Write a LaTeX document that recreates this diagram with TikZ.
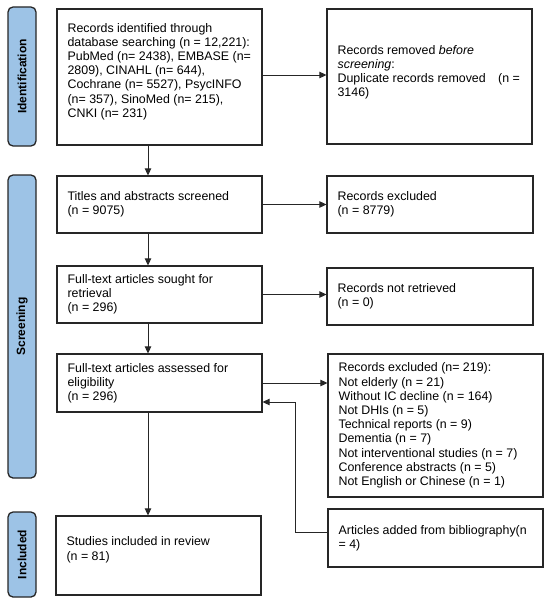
\documentclass[tikz,border=0pt]{standalone}
\usepackage{fontspec}
\setmainfont{Liberation Sans}
\usetikzlibrary{arrows.meta,calc}
\definecolor{sidefill}{HTML}{9DC3E6}
\definecolor{lncol}{HTML}{262626}
\begin{document}
\begin{tikzpicture}[x=1pt,y=-1pt,
  box/.style={draw=lncol,line width=1.2pt,fill=white,rectangle,inner sep=0pt},
  side/.style={draw=lncol,line width=1.3pt,fill=sidefill,rectangle,rounded corners=5pt,inner sep=0pt,minimum width=28pt},
  sidetxt/.style={rotate=90,font=\fontsize{12}{14}\selectfont\bfseries,text=black,inner sep=0pt},
  txt/.style={anchor=west,align=left,inner sep=0pt,font=\fontsize{12.4}{14.2}\selectfont,text=black},
  arr/.style={draw=lncol,line width=1pt,-{Triangle[length=7pt,width=6.5pt]}}]
\useasboundingbox (0,0) rectangle (550,602);
% sidebars
\node[side,minimum height=139pt] (s1) at (22,76.5) {};
\node[sidetxt] (s1t) at (s1.center) {Identification};
\node[side,minimum height=303pt] (s2) at (22,326.5) {};
\node[sidetxt] (s2t) at (s2.center) {Screening};
\node[side,minimum height=85pt] (s3) at (22,554.5) {};
\node[sidetxt] (s3t) at (s3.center) {Included};
% boxes
\node[box,minimum width=205pt,minimum height=136pt] (id) at (159.5,77) {};
\node[txt] (idt) at ($(id.west)+(11,-5.5)$) {Records identified through\\database searching (n = 12,221):\\PubMed (n= 2438), EMBASE (n=\\2809), CINAHL (n= 644),\\Cochrane (n= 5527), PsycINFO\\(n= 357), SinoMed (n= 215),\\CNKI (n= 231)};
\node[box,minimum width=205pt,minimum height=135pt] (rem) at (429.5,76.5) {};
\node[txt] (remt) at ($(rem.west)+(11,-4.2)$) {Records removed \textit{before}\\\textit{screening}:\\Duplicate records removed\hspace{12.5pt}(n =\\3146)};
\node[box,minimum width=205pt,minimum height=57pt] (tit) at (159.5,204.5) {};
\node[txt] (titt) at ($(tit.west)+(11,0)$) {Titles and abstracts screened\\(n = 9075)};
\node[box,minimum width=206pt,minimum height=57pt] (exc) at (430,204.5) {};
\node[txt] (exct) at ($(exc.west)+(11,0)$) {Records excluded\\(n = 8779)};
\node[box,minimum width=205pt,minimum height=57pt] (sou) at (159.5,294.5) {};
\node[txt] (sout) at ($(sou.west)+(11,0)$) {Full-text articles sought for\\retrieval\\(n = 296)};
\node[box,minimum width=206pt,minimum height=57pt] (ret) at (430,296.5) {};
\node[txt] (rett) at ($(ret.west)+(11,0)$) {Records not retrieved\\(n = 0)};
\node[box,minimum width=205pt,minimum height=58pt] (ass) at (159.5,383) {};
\node[txt] (asst) at ($(ass.west)+(11,0)$) {Full-text articles assessed for\\eligibility\\(n = 296)};
\node[box,minimum width=215pt,minimum height=143pt] (ex2) at (435.5,425.5) {};
\node[txt] (ex2t) at ($(ex2.west)+(11,0)$) {Records excluded (n= 219):\\Not elderly (n = 21)\\Without IC decline (n = 164)\\Not DHIs (n = 5)\\Technical reports (n = 9)\\Dementia (n = 7)\\Not interventional studies (n = 7)\\Conference abstracts (n = 5)\\Not English or Chinese (n = 1)};
\node[box,minimum width=215pt,minimum height=58pt] (add) at (435.5,538) {};
\node[txt] (addt) at ($(add.west)+(11,0)$) {Articles added from bibliography(n\\= 4)};
\node[box,minimum width=205pt,minimum height=79pt] (inc) at (158.5,555.5) {};
\node[txt] (inct) at ($(inc.west)+(11,-5.8)$) {Studies included in review\\(n = 81)};
% connectors
\coordinate (idr) at ($(id.east)+(0,-2)$);
\draw[arr] (idr) -- (idr -| rem.west);
\coordinate (idb) at ($(id.south)+(-11.5,0)$);
\draw[arr] (idb) -- (idb |- tit.north);
\draw[arr] (tit.east) -- (tit.east -| exc.west);
\coordinate (titb) at ($(tit.south)+(-11.5,0)$);
\draw[arr] (titb) -- (titb |- sou.north);
\draw[arr] (sou.east) -- (sou.east -| ret.west);
\coordinate (soub) at ($(sou.south)+(-11.5,0)$);
\draw[arr] (soub) -- (soub |- ass.north);
\draw[arr] (ass.east) -- (ass.east -| ex2.west);
\coordinate (assb) at ($(ass.south)+(-11.5,0)$);
\draw[arr] (assb) -- (assb |- inc.north);
\coordinate (addl) at ($(add.west)+(0,-6)$);
\coordinate (bend) at (295,532);
\coordinate (assr) at ($(ass.east)+(0,19)$);
\draw[arr] (addl) -- (bend) -- (bend |- assr) -- (assr);
\end{tikzpicture}
\end{document}
